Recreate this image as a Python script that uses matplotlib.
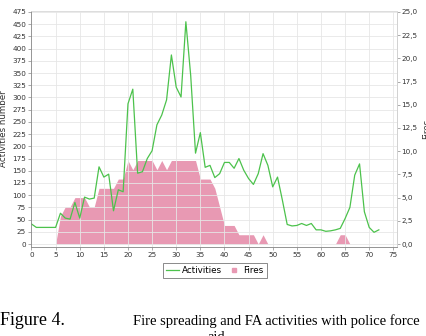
import matplotlib
matplotlib.use("Agg")
import matplotlib.pyplot as plt
from matplotlib.lines import Line2D
from matplotlib.ticker import FuncFormatter, MultipleLocator

# time steps
steps = list(range(0, 73))

# FA activities (left axis)
activities = [41, 34, 34, 34, 34, 34, 63, 53, 51, 85,
              53, 96, 92, 94, 158, 137, 143, 68, 111, 107,
              287, 317, 145, 148, 175, 191, 244, 264, 295, 387,
              321, 301, 455, 345, 186, 228, 157, 161, 136, 144,
              167, 167, 155, 175, 151, 134, 122, 144, 185, 161,
              117, 137, 90, 40, 37, 38, 42, 38, 42, 29,
              29, 26, 27, 29, 32, 52, 75, 141, 164, 66,
              34, 24, 29]

# number of fires (right axis)
fires = [0, 0, 0, 0, 0, 0, 3, 4, 4, 5,
         5, 5, 4, 4, 6, 6, 6, 6, 7, 7,
         9, 8, 9, 9, 9, 9, 8, 9, 8, 9,
         9, 9, 9, 9, 9, 7, 7, 7, 6, 4,
         2, 2, 2, 1, 1, 1, 1, 0, 1, 0,
         0, 0, 0, 0, 0, 0, 0, 0, 0, 0,
         0, 0, 0, 0, 1, 1, 0, 0, 0, 0,
         0, 0, 0]

GREEN = "#4cc24c"
PINK = "#e899b3"
AXC = "#888888"

fig = plt.figure(figsize=(4.26, 3.36), dpi=100)
ax = fig.add_axes([31 / 426, 1 - 246.7 / 336, 365.7 / 426, 235.7 / 336])
ax2 = ax.twinx()
ax.set_zorder(ax2.get_zorder() + 1)
ax.patch.set_visible(False)

# fires area on the right axis
ax2.fill_between(steps, fires, 0, color=PINK, lw=0)
# activities line on the left axis
ax.plot(steps, activities, color=GREEN, lw=0.9)

ylo, yhi = -5.5, 477
ax.set_xlim(-0.1, 75.7)
ax.set_ylim(ylo, yhi)
ax2.set_ylim(ylo / 19, yhi / 19)

ax.xaxis.set_major_locator(MultipleLocator(5))
ax.yaxis.set_major_locator(MultipleLocator(25))
ax2.yaxis.set_major_locator(MultipleLocator(2.5))
ax2.yaxis.set_major_formatter(FuncFormatter(lambda v, p: ("%.1f" % v).replace(".", ",")))

ax.grid(True, color="#e6e6e6", lw=0.6)
ax.set_axisbelow(True)

for a in (ax, ax2):
    a.tick_params(labelsize=5.2, length=2, width=0.5, color=AXC, pad=1.5, labelcolor="#333333")
    for s in a.spines.values():
        s.set_color("#dddddd")
        s.set_linewidth(0.6)
ax.spines["left"].set_color(AXC)
ax.spines["bottom"].set_color(AXC)
ax2.spines["right"].set_color(AXC)
ax2.spines["left"].set_visible(False)

ax.set_ylabel("Activities number", fontsize=6.3, color="#333333")
ax.yaxis.set_label_coords(-0.062, 0.5)
ax2.set_ylabel("Fires", fontsize=6.3, color="#333333")
ax2.yaxis.set_label_coords(1.069, 0.5)

handles = [Line2D([], [], color=GREEN, lw=0.9),
           Line2D([], [], color=PINK, marker="s", ls="none", markersize=3.5)]
leg = fig.legend(handles, ["Activities", "Fires"], loc="center",
                 bbox_to_anchor=(215 / 426, 1 - 270.5 / 336), ncol=2,
                 fontsize=6.3, frameon=True, fancybox=False, handlelength=1.4,
                 handletextpad=0.4, columnspacing=0.6, borderpad=0.35)
leg.get_frame().set_edgecolor("#555555")
leg.get_frame().set_linewidth(0.6)

fig.text(0.0, 1 - 325 / 336, "Figure 4.", family="Liberation Serif", fontsize=13)
fig.text(132.7 / 426, 1 - 325 / 336, "Fire spreading and FA activities with police force",
         family="Liberation Serif", fontsize=10.5)
fig.text(208 / 426, 1 - 341 / 336, "aid", family="Liberation Serif", fontsize=10.5)

fig.savefig("out.png", dpi=100)
